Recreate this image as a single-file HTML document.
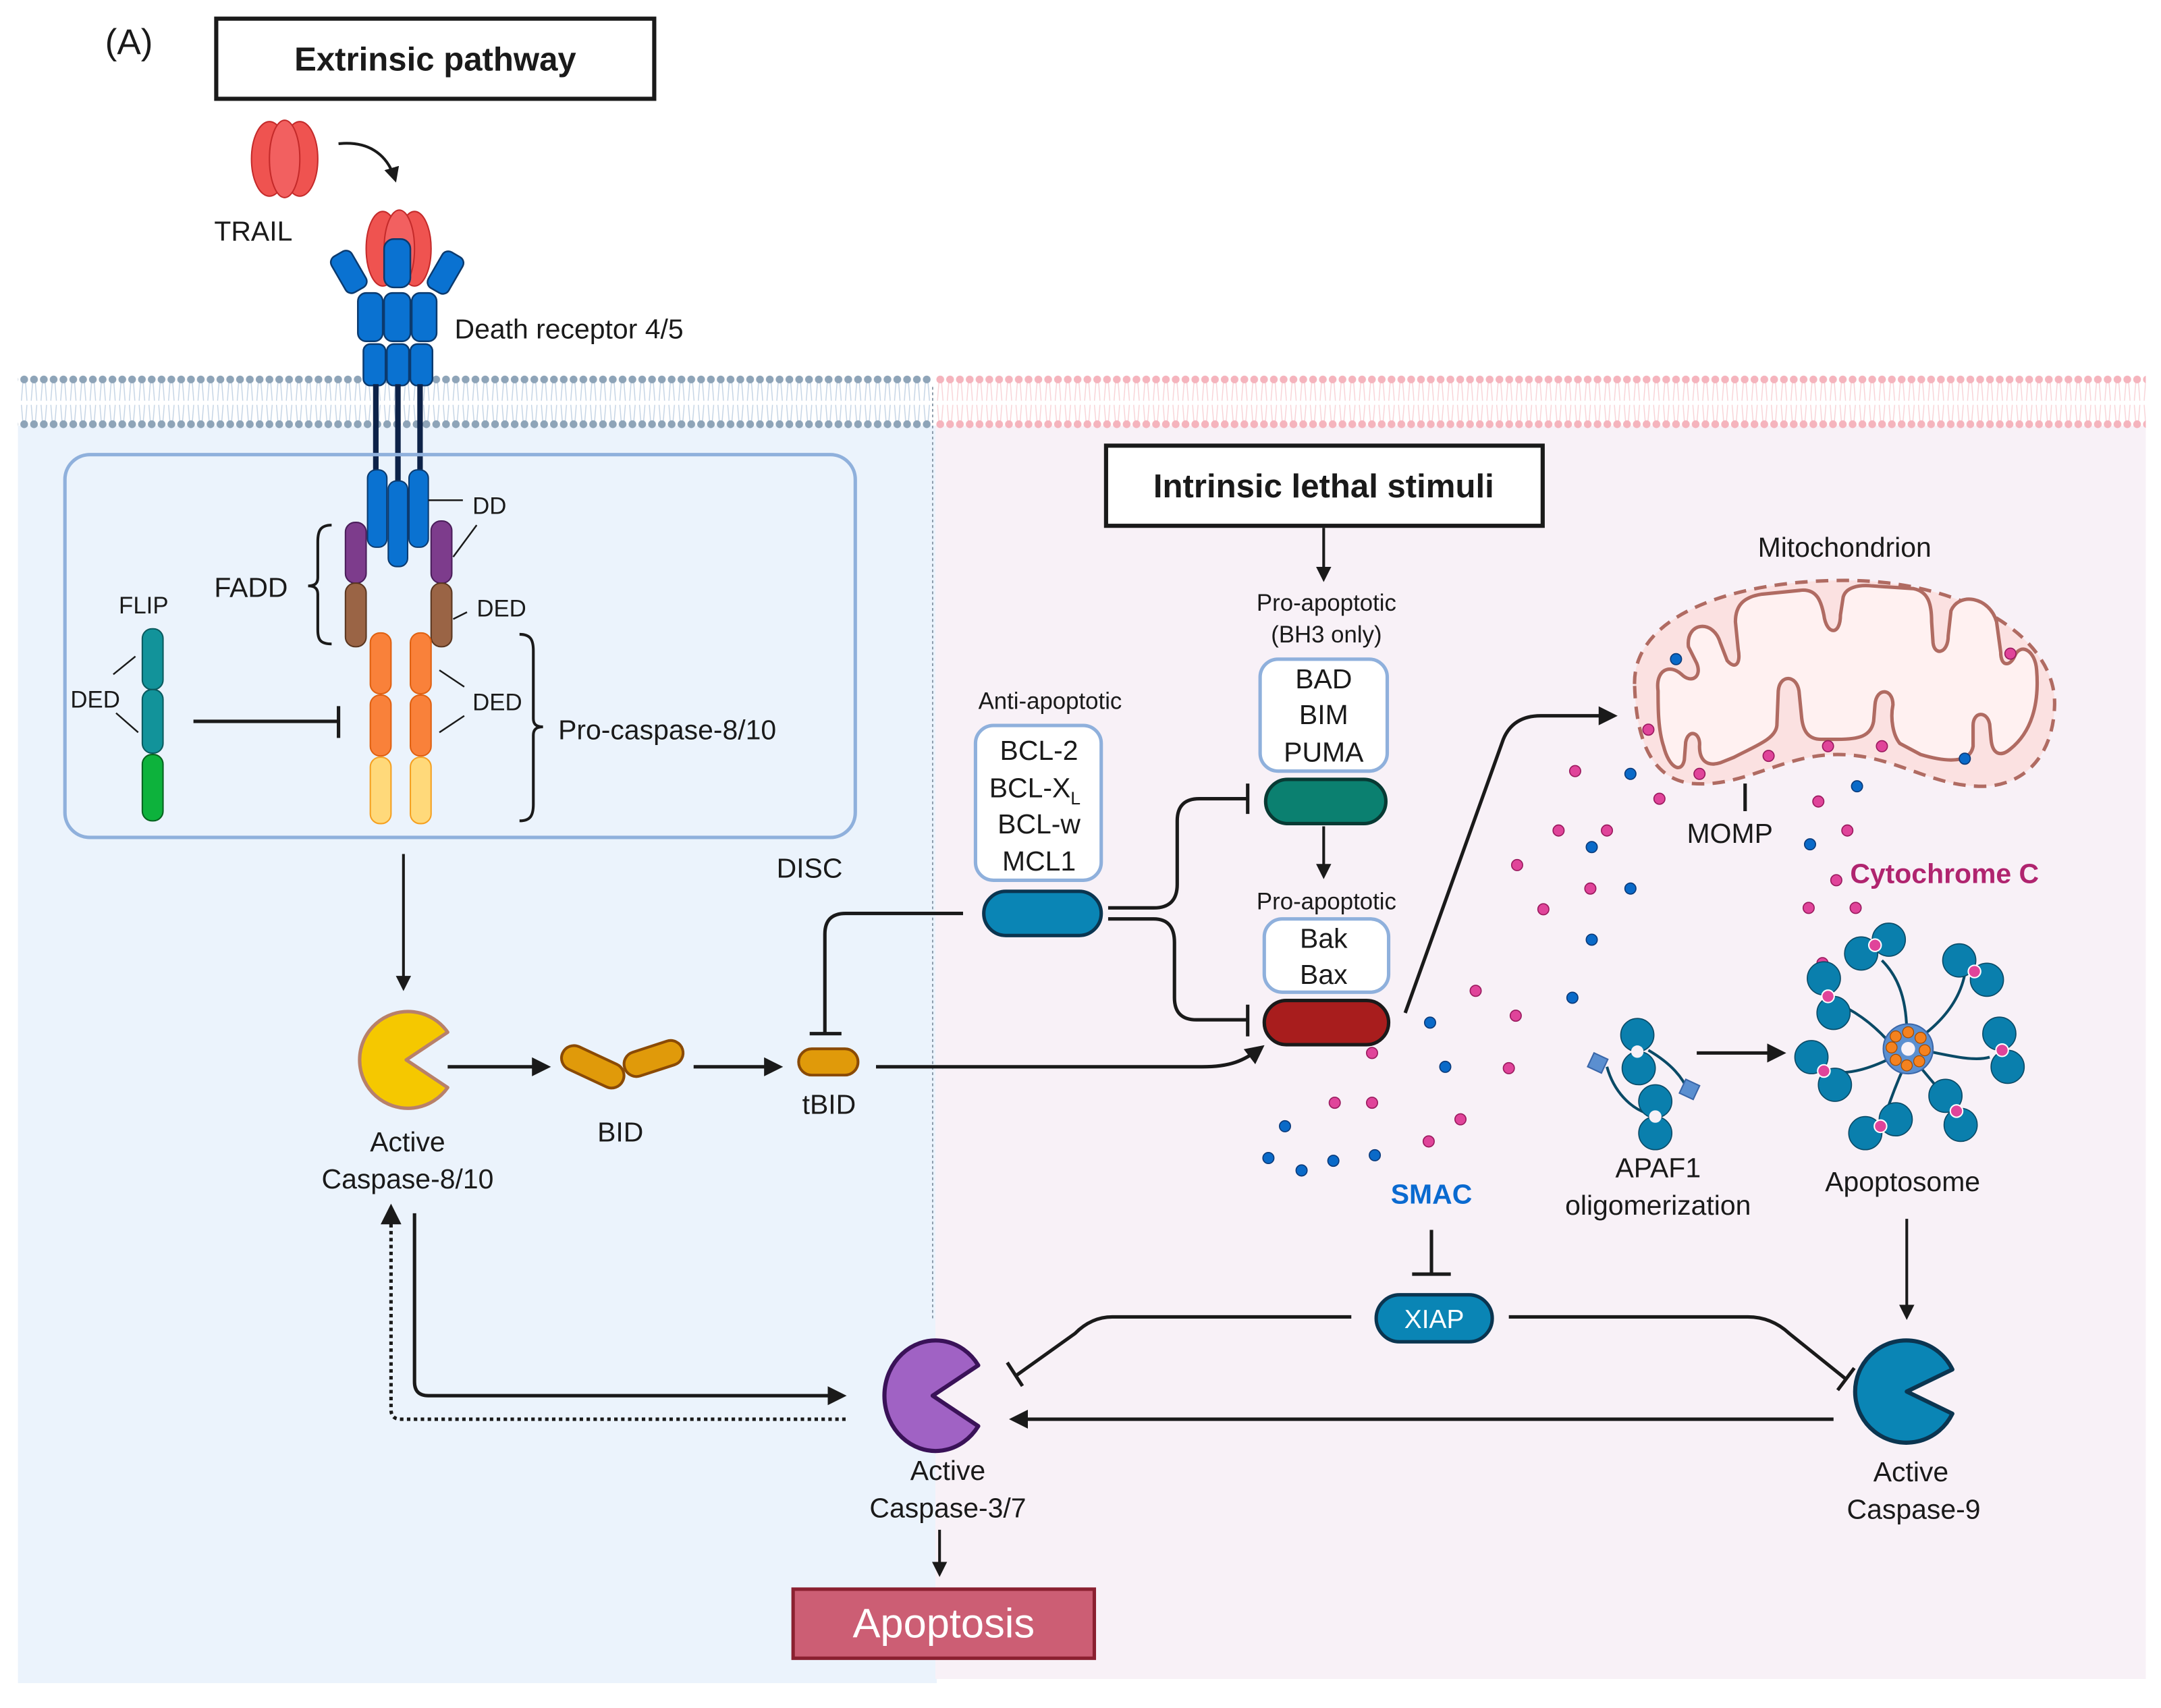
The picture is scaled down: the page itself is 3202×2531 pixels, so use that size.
<!DOCTYPE html>
<html><head><meta charset="utf-8"><style>
html,body{margin:0;padding:0;background:#fff;}
svg{display:block;}
text{font-family:"Liberation Sans",sans-serif;fill:#1a1a1a;}
</style></head><body>
<svg width="3202" height="2531" viewBox="0 0 1564 1236" preserveAspectRatio="none" xmlns="http://www.w3.org/2000/svg">
<defs>
<marker id="ah" viewBox="0 0 10 10" refX="8" refY="5" markerWidth="5.5" markerHeight="5.5" orient="auto-start-reverse" markerUnits="strokeWidth"><path d="M0,0 L10,5 L0,10 Z" fill="#1a1a1a"/></marker>
<marker id="ahs" viewBox="0 0 10 10" refX="8" refY="5" markerWidth="6" markerHeight="6" orient="auto-start-reverse" markerUnits="strokeWidth"><path d="M0,0 L10,5 L0,10 Z" fill="#1a1a1a"/></marker>
<pattern id="memL" x="14" y="270" width="7.1" height="42" patternUnits="userSpaceOnUse">
<path d="M2.5,7 L1.5,20 M4.5,7 L5.5,20 M1.5,23 L2.5,35 M5.5,23 L4.5,35" stroke="#c3d3e4" stroke-width="0.7" fill="none"/>
<circle cx="3.5" cy="4.6" r="2.8" fill="#8ea4b8"/><circle cx="3.5" cy="37" r="2.8" fill="#8ea4b8"/>
</pattern>
<pattern id="memR" x="677" y="270" width="7.1" height="42" patternUnits="userSpaceOnUse">
<path d="M2.5,7 L1.5,20 M4.5,7 L5.5,20 M1.5,23 L2.5,35 M5.5,23 L4.5,35" stroke="#f8d2d6" stroke-width="0.7" fill="none"/>
<circle cx="3.5" cy="4.6" r="2.8" fill="#f5b4bd"/><circle cx="3.5" cy="37" r="2.8" fill="#f5b4bd"/>
</pattern>
</defs>

<rect x="13" y="308" width="665" height="910" fill="#ebf3fc"/>
<rect x="677" y="308" width="876" height="907" fill="#f8f1f7"/>
<rect x="13" y="270" width="662" height="42" fill="url(#memL)"/>
<rect x="677" y="270" width="876" height="42" fill="url(#memR)"/>
<line x1="675" y1="280" x2="675" y2="955" stroke="#7a8a9a" stroke-width="0.8" stroke-dasharray="2,2"/>

<text x="76" y="39" font-size="26">(A)</text>
<rect x="156.5" y="13.5" width="317" height="58" fill="#fff" stroke="#1a1a1a" stroke-width="3"/>
<text x="315" y="51" font-size="24" font-weight="bold" text-anchor="middle">Extrinsic pathway</text>

<g stroke="#c42a2a" stroke-width="1" fill="#ef5350">
<ellipse cx="195" cy="115" rx="13" ry="27"/><ellipse cx="217" cy="115" rx="13" ry="27"/><ellipse cx="206" cy="115" rx="11" ry="28" fill="#f26060"/>
</g>
<text x="155" y="174" font-size="20">TRAIL</text>
<path d="M245,104 C265,102 280,110 286,130" fill="none" stroke="#1a1a1a" stroke-width="2" marker-end="url(#ah)"/>

<g stroke="#c42a2a" stroke-width="1" fill="#ef5350">
<ellipse cx="277" cy="180" rx="12" ry="27"/><ellipse cx="300" cy="180" rx="12" ry="27"/><ellipse cx="289" cy="180" rx="11" ry="28" fill="#f26060"/>
</g>
<g stroke="#0b3a6e" stroke-width="1.2" fill="#0a72d1">
<rect x="278" y="173" width="19" height="35" rx="7"/>
<rect x="244" y="182" width="17" height="30" rx="5" transform="rotate(-30 252 197)"/>
<rect x="314" y="182" width="17" height="30" rx="5" transform="rotate(30 322 197)"/>
<rect x="259" y="212" width="18" height="35" rx="6"/><rect x="278" y="212" width="19" height="35" rx="6"/><rect x="298" y="212" width="18" height="35" rx="6"/>
<rect x="263" y="249" width="16" height="30" rx="5"/><rect x="280" y="249" width="16" height="30" rx="5"/><rect x="297" y="249" width="16" height="30" rx="5"/>
</g>
<text x="329" y="245" font-size="20">Death receptor 4/5</text>
<g stroke="#0d2248" stroke-width="4">
<line x1="272" y1="278" x2="272" y2="345"/><line x1="288" y1="278" x2="288" y2="352"/><line x1="304" y1="278" x2="304" y2="345"/>
</g>

<rect x="47" y="329" width="572" height="277" rx="18" fill="none" stroke="#8fb0dc" stroke-width="2.5"/>
<text x="562" y="635" font-size="20">DISC</text>
<g stroke="#0b3a6e" stroke-width="1" fill="#0a72d1">
<rect x="266" y="340" width="14" height="56" rx="6"/><rect x="281" y="348" width="14" height="62" rx="6"/><rect x="296" y="340" width="14" height="56" rx="6"/>
</g>
<g stroke="#4a1d5a" stroke-width="1" fill="#7d3c8c">
<rect x="250" y="378" width="15" height="44" rx="7"/><rect x="312" y="377" width="15" height="45" rx="7"/>
</g>
<g stroke="#5a3620" stroke-width="1" fill="#9a6445">
<rect x="250" y="422" width="15" height="46" rx="7"/><rect x="312" y="422" width="15" height="46" rx="7"/>
</g>
<g stroke="#e06010" stroke-width="1" fill="#f9813a">
<rect x="268" y="458" width="15" height="44" rx="7"/><rect x="268" y="503" width="15" height="44" rx="7"/>
<rect x="297" y="458" width="15" height="44" rx="7"/><rect x="297" y="503" width="15" height="44" rx="7"/>
</g>
<g stroke="#f5a020" stroke-width="1" fill="#ffd97a">
<rect x="268" y="548" width="15" height="48" rx="7"/><rect x="297" y="548" width="15" height="48" rx="7"/>
</g>
<g stroke="#0a5a5e" stroke-width="1" fill="#12939a">
<rect x="103" y="455" width="15" height="44" rx="7"/><rect x="103" y="499" width="15" height="46" rx="7"/>
</g>
<rect x="103" y="546" width="15" height="48" rx="7" fill="#0db23c" stroke="#07631f" stroke-width="1"/>
<g stroke="#1a1a1a" stroke-width="1.2" fill="none">
<line x1="310" y1="362" x2="335" y2="362"/><line x1="328" y1="403" x2="345" y2="380"/><line x1="328" y1="448" x2="338" y2="443"/>
<line x1="318" y1="485" x2="336" y2="497"/><line x1="318" y1="530" x2="336" y2="518"/>
<line x1="98" y1="475" x2="82" y2="488"/><line x1="100" y1="530" x2="84" y2="516"/>
</g>
<text x="342" y="372" font-size="17">DD</text>
<text x="345" y="446" font-size="17">DED</text>
<text x="342" y="514" font-size="17">DED</text>
<text x="51" y="512" font-size="17">DED</text>
<text x="86" y="444" font-size="17">FLIP</text>
<text x="155" y="432" font-size="20">FADD</text>
<path d="M240,380 C232,380 230,384 230,392 L230,418 C230,422 228,424 223,424 C228,424 230,426 230,430 L230,456 C230,463 232,466 240,466" fill="none" stroke="#1a1a1a" stroke-width="2"/>
<path d="M376,459 C384,459 386,463 386,471 L386,520 C386,524 388,526 393,526 C388,526 386,528 386,532 L386,582 C386,590 384,594 376,594" fill="none" stroke="#1a1a1a" stroke-width="2"/>
<text x="404" y="535" font-size="20">Pro-caspase-8/10</text>
<line x1="140" y1="522" x2="245" y2="522" stroke="#1a1a1a" stroke-width="2.5"/>
<line x1="245" y1="511" x2="245" y2="534" stroke="#1a1a1a" stroke-width="2.5"/>

<line x1="292" y1="618" x2="292" y2="715" stroke="#1a1a1a" stroke-width="2" marker-end="url(#ah)"/>
<path d="M294,767 L324,747 A35,35 0 1 0 324,787 Z" fill="#f5c800" stroke="#b8806a" stroke-width="2.5" stroke-linejoin="round"/>
<text x="295" y="833" font-size="20" text-anchor="middle">Active</text>
<text x="295" y="860" font-size="20" text-anchor="middle">Caspase-8/10</text>
<line x1="324" y1="772" x2="396" y2="772" stroke="#1a1a1a" stroke-width="2.5" marker-end="url(#ah)"/>
<g fill="#e09a0a" stroke="#8a4a05" stroke-width="2">
<rect x="405" y="763" width="48" height="18" rx="9" transform="rotate(25 429 772)"/>
<rect x="451" y="757" width="44" height="18" rx="9" transform="rotate(-18 473 766)"/>
</g>
<text x="449" y="826" font-size="20" text-anchor="middle">BID</text>
<line x1="502" y1="772" x2="564" y2="772" stroke="#1a1a1a" stroke-width="2.5" marker-end="url(#ah)"/>
<rect x="578" y="759" width="43" height="19" rx="9.5" fill="#e09a0a" stroke="#8a4a05" stroke-width="2"/>
<text x="600" y="806" font-size="20" text-anchor="middle">tBID</text>
<path d="M634,772 L870,772 C890,772 900,768 913,758" fill="none" stroke="#1a1a1a" stroke-width="2.5" marker-end="url(#ah)"/>

<text x="760" y="513" font-size="17" text-anchor="middle">Anti-apoptotic</text>
<rect x="706" y="525" width="91" height="112" rx="13" fill="#fff" stroke="#8fb0dc" stroke-width="2.5"/>
<text x="752" y="550" font-size="20" text-anchor="middle">BCL-2</text>
<text x="749" y="577" font-size="20" text-anchor="middle">BCL-X<tspan font-size="13" dy="5">L</tspan></text>
<text x="752" y="603" font-size="20" text-anchor="middle">BCL-w</text>
<text x="752" y="630" font-size="20" text-anchor="middle">MCL1</text>
<rect x="712" y="645" width="85" height="32" rx="16" fill="#0a85b5" stroke="#0b3550" stroke-width="2.5"/>
<path d="M697,661 L612,661 Q597,661 597,676 L597,748" fill="none" stroke="#1a1a1a" stroke-width="2.5"/>
<line x1="586" y1="748" x2="609" y2="748" stroke="#1a1a1a" stroke-width="2.5"/>
<path d="M802,657 L835,657 Q852,657 852,640 L852,594 Q852,578 868,578 L903,578" fill="none" stroke="#1a1a1a" stroke-width="2.5"/>
<line x1="903" y1="567" x2="903" y2="589" stroke="#1a1a1a" stroke-width="2.5"/>
<path d="M802,665 L835,665 Q850,665 850,682 L850,722 Q850,738 866,738 L903,738" fill="none" stroke="#1a1a1a" stroke-width="2.5"/>
<line x1="903" y1="727" x2="903" y2="750" stroke="#1a1a1a" stroke-width="2.5"/>

<rect x="800.5" y="322.5" width="316" height="58" fill="#fff" stroke="#1a1a1a" stroke-width="3"/>
<text x="958" y="360" font-size="24" font-weight="bold" text-anchor="middle">Intrinsic lethal stimuli</text>
<line x1="958" y1="382" x2="958" y2="419" stroke="#1a1a1a" stroke-width="2" marker-end="url(#ah)"/>
<text x="960" y="442" font-size="17" text-anchor="middle">Pro-apoptotic</text>
<text x="960" y="465" font-size="17" text-anchor="middle">(BH3 only)</text>
<rect x="912" y="477" width="92" height="81" rx="13" fill="#fff" stroke="#8fb0dc" stroke-width="2.5"/>
<text x="958" y="498" font-size="20" text-anchor="middle">BAD</text>
<text x="958" y="524" font-size="20" text-anchor="middle">BIM</text>
<text x="958" y="551" font-size="20" text-anchor="middle">PUMA</text>
<rect x="916" y="564" width="87" height="32" rx="16" fill="#0b8070" stroke="#083a34" stroke-width="2.5"/>
<line x1="958" y1="598" x2="958" y2="634" stroke="#1a1a1a" stroke-width="2" marker-end="url(#ah)"/>
<text x="960" y="658" font-size="17" text-anchor="middle">Pro-apoptotic</text>
<rect x="915" y="665" width="90" height="53" rx="13" fill="#fff" stroke="#8fb0dc" stroke-width="2.5"/>
<text x="958" y="686" font-size="20" text-anchor="middle">Bak</text>
<text x="958" y="712" font-size="20" text-anchor="middle">Bax</text>
<rect x="915" y="724" width="90" height="32" rx="16" fill="#a81d1d" stroke="#1a1a1a" stroke-width="2.5"/>
<path d="M1017,733 L1088,535 Q1095,518 1115,518 L1168,518" fill="none" stroke="#1a1a1a" stroke-width="2.5" marker-end="url(#ah)"/>

<text x="1335" y="403" font-size="20" text-anchor="middle">Mitochondrion</text>
<path d="M1183,495 C1182,445 1255,420 1335,420 C1420,420 1488,460 1487,510 C1486,550 1462,570 1432,569 C1395,568 1370,546 1330,546 C1290,546 1262,570 1225,567 C1195,564 1184,535 1183,495 Z" fill="#fbe1e1" stroke="#b06b62" stroke-width="2.5" stroke-dasharray="9,6"/>
<path d="M1200,500 C1198,485 1208,480 1217,488 C1224,495 1232,490 1228,480 L1222,468 C1220,450 1240,448 1245,465 L1250,478 C1256,485 1260,480 1258,470 L1256,450 C1256,438 1262,432 1275,430 L1305,427 C1315,427 1318,435 1320,445 C1322,460 1332,460 1332,445 L1334,432 C1336,425 1345,423 1355,424 L1385,426 C1395,428 1398,436 1398,450 L1399,465 C1400,475 1410,473 1410,460 L1412,442 C1418,428 1440,432 1445,450 L1448,472 C1448,483 1455,482 1458,475 C1462,465 1473,470 1474,485 C1476,510 1470,530 1455,542 C1448,548 1442,546 1441,535 L1440,524 C1438,514 1428,515 1428,525 L1428,540 C1426,552 1410,552 1390,546 L1375,538 C1370,532 1368,520 1370,510 C1370,498 1358,497 1357,510 L1356,522 C1354,533 1345,535 1330,535 L1318,535 C1308,535 1305,528 1304,520 L1302,500 C1300,488 1288,488 1287,500 L1286,525 C1285,535 1270,540 1255,548 L1245,552 C1235,555 1230,550 1230,540 C1231,530 1222,527 1220,537 L1219,550 C1217,560 1208,556 1204,540 C1200,528 1200,512 1200,500 Z" fill="#fff1f1" stroke="#b06b62" stroke-width="2.5"/>
<line x1="1263" y1="567" x2="1263" y2="587" stroke="#1a1a1a" stroke-width="2.5"/>
<text x="1252" y="610" font-size="20" text-anchor="middle">MOMP</text>
<text x="1339" y="639" font-size="20" font-weight="bold" style="fill:#b0246f">Cytochrome C</text>

<g fill="#e0449a" stroke="#9a1a5e" stroke-width="0.8">
<circle cx="1193" cy="528" r="4"/><circle cx="1230" cy="560" r="4"/><circle cx="1280" cy="547" r="4"/><circle cx="1323" cy="540" r="4"/><circle cx="1362" cy="540" r="4"/><circle cx="1455" cy="473" r="4"/>
<circle cx="1140" cy="558" r="4"/><circle cx="1163" cy="601" r="4"/><circle cx="1201" cy="578" r="4"/><circle cx="1128" cy="601" r="4"/><circle cx="1151" cy="643" r="4"/><circle cx="1098" cy="626" r="4"/><circle cx="1117" cy="658" r="4"/>
<circle cx="1316" cy="580" r="4"/><circle cx="1337" cy="601" r="4"/><circle cx="1309" cy="657" r="4"/><circle cx="1343" cy="657" r="4"/><circle cx="1329" cy="637" r="4"/><circle cx="1319" cy="697" r="4"/>
<circle cx="1068" cy="717" r="4"/><circle cx="1097" cy="735" r="4"/><circle cx="1092" cy="773" r="4"/><circle cx="993" cy="762" r="4"/><circle cx="1057" cy="810" r="4"/><circle cx="1034" cy="826" r="4"/><circle cx="966" cy="798" r="4"/><circle cx="993" cy="798" r="4"/>
</g>
<g fill="#0a6ac8" stroke="#0a3a7a" stroke-width="0.8">
<circle cx="1213" cy="477" r="4"/><circle cx="1422" cy="549" r="4"/><circle cx="1180" cy="560" r="4"/><circle cx="1344" cy="569" r="4"/><circle cx="1180" cy="643" r="4"/><circle cx="1152" cy="680" r="4"/><circle cx="1138" cy="722" r="4"/><circle cx="1310" cy="611" r="4"/><circle cx="1152" cy="613" r="4"/>
<circle cx="1035" cy="740" r="4"/><circle cx="1046" cy="772" r="4"/><circle cx="930" cy="815" r="4"/><circle cx="918" cy="838" r="4"/><circle cx="942" cy="847" r="4"/><circle cx="965" cy="840" r="4"/><circle cx="995" cy="836" r="4"/>
</g>

<!-- APAF1 -->
<path d="M1193,760 C1210,770 1218,780 1222,790 M1163,772 C1168,790 1180,802 1193,806" fill="none" stroke="#0a4a66" stroke-width="2"/>
<g fill="#0a7fad" stroke="#0a4a66" stroke-width="0.8">
<circle cx="1186" cy="773" r="12"/><circle cx="1185" cy="749" r="12"/>
<circle cx="1198" cy="797" r="12"/><circle cx="1198" cy="820" r="12"/>
</g>
<circle cx="1185" cy="761" r="4.5" fill="#f8f1f7"/><circle cx="1198" cy="808" r="4.5" fill="#f8f1f7"/>
<rect x="1151" y="764" width="11" height="11" fill="#5b8fd0" stroke="#3a66a8" transform="rotate(25 1157 769)"/>
<rect x="1217" y="783" width="11" height="11" fill="#5b8fd0" stroke="#3a66a8" transform="rotate(25 1223 789)"/>
<text x="1200" y="852" font-size="20" text-anchor="middle">APAF1</text>
<text x="1200" y="879" font-size="20" text-anchor="middle">oligomerization</text>
<line x1="1228" y1="762" x2="1290" y2="762" stroke="#1a1a1a" stroke-width="2.5" marker-end="url(#ah)"/>

<!-- apoptosome -->
<g stroke="#0a4a66" stroke-width="2" fill="none">
<path d="M1380,748 C1380,720 1372,705 1362,695"/><path d="M1388,752 C1405,740 1418,725 1422,705"/>
<path d="M1392,760 C1415,765 1430,768 1440,765"/><path d="M1388,770 C1400,785 1410,795 1415,805"/>
<path d="M1378,772 C1370,790 1365,805 1362,815"/><path d="M1370,765 C1350,775 1335,778 1322,775"/>
<path d="M1368,755 C1355,740 1340,730 1327,725"/>
</g>
<g fill="#0a7fad" stroke="#0a4a66" stroke-width="0.8">
<circle cx="1347" cy="690" r="12"/><circle cx="1367" cy="680" r="12"/>
<circle cx="1418" cy="695" r="12"/><circle cx="1438" cy="709" r="12"/>
<circle cx="1447" cy="748" r="12"/><circle cx="1453" cy="772" r="12"/>
<circle cx="1408" cy="793" r="12"/><circle cx="1419" cy="814" r="12"/>
<circle cx="1350" cy="820" r="12"/><circle cx="1372" cy="810" r="12"/>
<circle cx="1311" cy="765" r="12"/><circle cx="1328" cy="785" r="12"/>
<circle cx="1320" cy="708" r="12"/><circle cx="1327" cy="733" r="12"/>
</g>
<g fill="#e0449a" stroke="#fff" stroke-width="1">
<circle cx="1357" cy="684" r="4.5"/><circle cx="1429" cy="703" r="4.5"/><circle cx="1449" cy="760" r="4.5"/><circle cx="1416" cy="804" r="4.5"/><circle cx="1361" cy="815" r="4.5"/><circle cx="1320" cy="775" r="4.5"/><circle cx="1323" cy="721" r="4.5"/>
</g>
<circle cx="1381" cy="759" r="18" fill="#5b8fd0" stroke="#3a66a8"/>
<g fill="#f5821f" stroke="#a04a00" stroke-width="0.6">
<circle cx="1381" cy="747" r="4"/><circle cx="1390" cy="751" r="4"/><circle cx="1393" cy="760" r="4"/><circle cx="1389" cy="768" r="4"/><circle cx="1380" cy="771" r="4"/><circle cx="1372" cy="767" r="4"/><circle cx="1369" cy="758" r="4"/><circle cx="1372" cy="750" r="4"/>
</g>
<circle cx="1381" cy="759" r="5" fill="#f8f1f7"/>
<text x="1377" y="862" font-size="20" text-anchor="middle">Apoptosome</text>
<line x1="1380" y1="882" x2="1380" y2="953" stroke="#1a1a1a" stroke-width="2" marker-end="url(#ah)"/>

<text x="1036" y="871" font-size="20" font-weight="bold" text-anchor="middle" style="fill:#0a6ad0">SMAC</text>
<line x1="1036" y1="890" x2="1036" y2="922" stroke="#1a1a1a" stroke-width="2.5"/>
<line x1="1022" y1="922" x2="1050" y2="922" stroke="#1a1a1a" stroke-width="2.5"/>
<rect x="996" y="937" width="84" height="34" rx="17" fill="#0a85b5" stroke="#0b3550" stroke-width="2.5"/>
<text x="1038" y="961" font-size="19" text-anchor="middle" style="fill:#fff">XIAP</text>
<path d="M978,953 L805,953 Q790,953 778,965 L736,995" fill="none" stroke="#1a1a1a" stroke-width="2.5"/>
<line x1="729" y1="986" x2="740" y2="1003" stroke="#1a1a1a" stroke-width="2.5"/>
<path d="M1092,953 L1265,953 Q1282,953 1295,965 L1336,998" fill="none" stroke="#1a1a1a" stroke-width="2.5"/>
<line x1="1342" y1="990" x2="1330" y2="1006" stroke="#1a1a1a" stroke-width="2.5"/>

<path d="M1380,1007 L1413,991 A37,37 0 1 0 1413,1023 Z" fill="#0a85b5" stroke="#0b3550" stroke-width="3" stroke-linejoin="round"/>
<text x="1383" y="1072" font-size="20" text-anchor="middle">Active</text>
<text x="1385" y="1099" font-size="20" text-anchor="middle">Caspase-9</text>
<line x1="1327" y1="1027" x2="733" y2="1027" stroke="#1a1a1a" stroke-width="2.5" marker-end="url(#ah)"/>

<path d="M675,1010 L708,988 A37,40 0 1 0 708,1032 Z" fill="#a062c4" stroke="#3a1258" stroke-width="3" stroke-linejoin="round"/>
<text x="686" y="1071" font-size="20" text-anchor="middle">Active</text>
<text x="686" y="1098" font-size="20" text-anchor="middle">Caspase-3/7</text>
<path d="M300,878 L300,1000 Q300,1010 310,1010 L610,1010" fill="none" stroke="#1a1a1a" stroke-width="2.5" marker-end="url(#ah)"/>
<path d="M612,1027 L290,1027 Q283,1027 283,1020 L283,874" fill="none" stroke="#1a1a1a" stroke-width="2.5" stroke-dasharray="2.5,2.5" marker-end="url(#ahs)"/>
<line x1="680" y1="1107" x2="680" y2="1139" stroke="#1a1a1a" stroke-width="2" marker-end="url(#ah)"/>
<rect x="574" y="1150" width="218" height="50" fill="#cc5e74" stroke="#8b2030" stroke-width="2.5"/>
<text x="683" y="1185" font-size="30" text-anchor="middle" style="fill:#fff">Apoptosis</text>
</svg>
</body></html>
